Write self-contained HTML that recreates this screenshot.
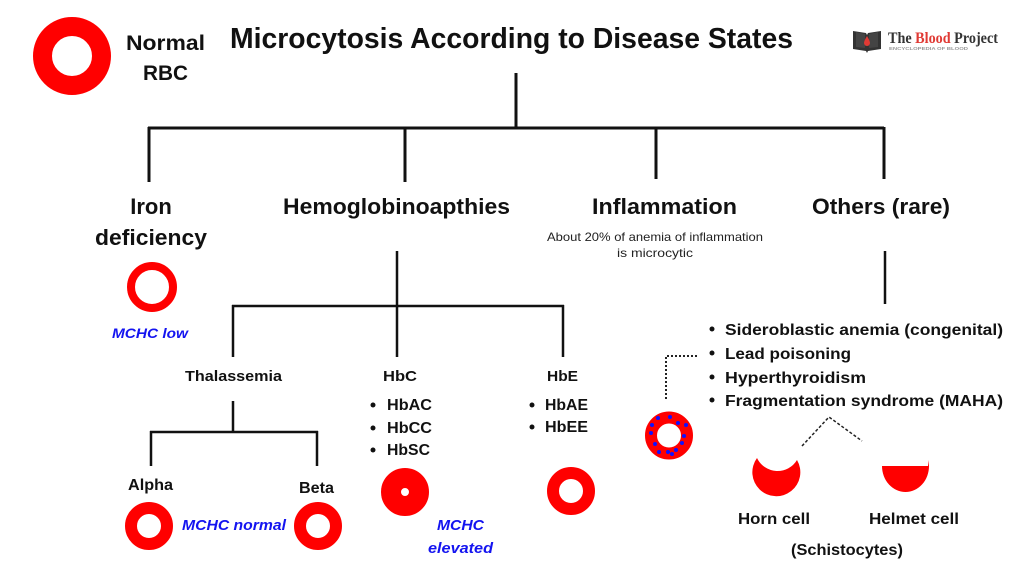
<!DOCTYPE html>
<html>
<head>
<meta charset="utf-8">
<style>
  html,body{margin:0;padding:0;background:#fff;}
  svg{display:block;}
  .b{font-family:"Liberation Sans",sans-serif;font-weight:bold;fill:#111;}
  .r{font-family:"Liberation Sans",sans-serif;}
  .blue{font-family:"Liberation Sans",sans-serif;font-weight:bold;font-style:italic;fill:#1414f0;}
  .serif{font-family:"Liberation Serif",serif;font-weight:bold;}
</style>
</head>
<body>
<svg width="1024" height="576" viewBox="0 0 1024 576" xmlns="http://www.w3.org/2000/svg">
  <rect width="1024" height="576" fill="#fff"/>

  <!-- Normal RBC -->
  <circle cx="72" cy="56" r="29.5" fill="none" stroke="#ff0000" stroke-width="19"/>
  <text class="b" x="126" y="50" font-size="21" textLength="79" lengthAdjust="spacingAndGlyphs">Normal</text>
  <text class="b" x="143" y="80" font-size="21" textLength="45" lengthAdjust="spacingAndGlyphs">RBC</text>

  <!-- Title -->
  <text class="b" x="230" y="48" font-size="29" textLength="563" lengthAdjust="spacingAndGlyphs">Microcytosis According to Disease States</text>

  <!-- Logo -->
  <g>
    <path d="M853 31 L853 49 L866 51 L867 53 L868 51 L881 49 L881 31 L868 33 L867 35 L866 33 Z" fill="#333"/>
    <path d="M856 32 L865 34 L865 48 L856 47 Z" fill="#444"/>
    <path d="M878 32 L869 34 L869 48 L878 47 Z" fill="#444"/>
    <path d="M867 36 Q864 41 864 43 A3 3 0 0 0 870 43 Q870 41 867 36 Z" fill="#e03a34"/>
    <text class="serif" x="888" y="43" font-size="16" textLength="110" lengthAdjust="spacingAndGlyphs"><tspan fill="#333">The </tspan><tspan fill="#e03a34">Blood</tspan><tspan fill="#333"> Project</tspan></text>
    <text class="r" x="889" y="50" font-size="4.5" fill="#999" font-weight="bold" textLength="79" lengthAdjust="spacingAndGlyphs">ENCYCLOPEDIA OF BLOOD</text>
  </g>

  <!-- Main tree -->
  <g stroke="#111" stroke-width="3" fill="none">
    <line x1="516" y1="73" x2="516" y2="128"/>
    <line x1="148" y1="128" x2="884" y2="128"/>
    <line x1="149" y1="127" x2="149" y2="182"/>
    <line x1="405" y1="127" x2="405" y2="182"/>
    <line x1="656" y1="127" x2="656" y2="179"/>
    <line x1="884" y1="127" x2="884" y2="179"/>
  </g>

  <!-- Category headings -->
  <text class="b" x="151" y="214" font-size="22" text-anchor="middle">Iron</text>
  <text class="b" x="95" y="245" font-size="22" textLength="112" lengthAdjust="spacingAndGlyphs">deficiency</text>
  <text class="b" x="283" y="214" font-size="22" textLength="227" lengthAdjust="spacingAndGlyphs">Hemoglobinoapthies</text>
  <text class="b" x="592" y="214" font-size="22" textLength="145" lengthAdjust="spacingAndGlyphs">Inflammation</text>
  <text class="b" x="812" y="214" font-size="22" textLength="138" lengthAdjust="spacingAndGlyphs">Others (rare)</text>

  <text class="r" x="547" y="241" font-size="12" fill="#222" textLength="216" lengthAdjust="spacingAndGlyphs">About 20% of anemia of inflammation</text>
  <text class="r" x="617" y="257" font-size="12" fill="#222" textLength="76" lengthAdjust="spacingAndGlyphs">is microcytic</text>

  <!-- Iron deficiency ring -->
  <circle cx="152" cy="287" r="21" fill="none" stroke="#ff0000" stroke-width="8"/>
  <text class="blue" x="112" y="338" font-size="14" textLength="76" lengthAdjust="spacingAndGlyphs">MCHC low</text>

  <!-- Hemoglobinopathies subtree -->
  <g stroke="#111" stroke-width="2.5" fill="none">
    <line x1="397" y1="251" x2="397" y2="357"/>
    <line x1="232" y1="306" x2="564" y2="306"/>
    <line x1="233" y1="305" x2="233" y2="357"/>
    <line x1="563" y1="305" x2="563" y2="357"/>
    <line x1="233" y1="401" x2="233" y2="432"/>
    <line x1="150" y1="432" x2="318" y2="432"/>
    <line x1="151" y1="431" x2="151" y2="466"/>
    <line x1="317" y1="431" x2="317" y2="466"/>
    <line x1="885" y1="251" x2="885" y2="304"/>
  </g>

  <text class="b" x="185" y="381" font-size="15" textLength="97" lengthAdjust="spacingAndGlyphs">Thalassemia</text>
  <text class="b" x="383" y="381" font-size="15" textLength="34" lengthAdjust="spacingAndGlyphs">HbC</text>
  <text class="b" x="547" y="381" font-size="15" textLength="31" lengthAdjust="spacingAndGlyphs">HbE</text>

  <!-- HbC / HbE bullets -->
  <g fill="#111">
    <circle cx="373" cy="405" r="2.5"/>
    <circle cx="373" cy="428" r="2.5"/>
    <circle cx="373" cy="450" r="2.5"/>
    <circle cx="532" cy="405" r="2.5"/>
    <circle cx="532" cy="427" r="2.5"/>
  </g>
  <text class="b" x="387" y="410" font-size="16" textLength="45" lengthAdjust="spacingAndGlyphs">HbAC</text>
  <text class="b" x="387" y="433" font-size="16" textLength="45" lengthAdjust="spacingAndGlyphs">HbCC</text>
  <text class="b" x="387" y="455" font-size="16" textLength="43" lengthAdjust="spacingAndGlyphs">HbSC</text>
  <text class="b" x="545" y="410" font-size="16" textLength="43" lengthAdjust="spacingAndGlyphs">HbAE</text>
  <text class="b" x="545" y="432" font-size="16" textLength="43" lengthAdjust="spacingAndGlyphs">HbEE</text>

  <!-- Alpha / Beta -->
  <text class="b" x="128" y="490" font-size="16" textLength="45" lengthAdjust="spacingAndGlyphs">Alpha</text>
  <text class="b" x="299" y="493" font-size="16" textLength="35" lengthAdjust="spacingAndGlyphs">Beta</text>
  <circle cx="149" cy="526" r="18" fill="none" stroke="#ff0000" stroke-width="12"/>
  <circle cx="318" cy="526" r="18" fill="none" stroke="#ff0000" stroke-width="12"/>
  <text class="blue" x="182" y="530" font-size="15" textLength="104" lengthAdjust="spacingAndGlyphs">MCHC normal</text>

  <!-- HbC ring (target) -->
  <circle cx="405" cy="492" r="14" fill="none" stroke="#ff0000" stroke-width="20"/>
  <text class="blue" x="437" y="530" font-size="15" textLength="47" lengthAdjust="spacingAndGlyphs">MCHC</text>
  <text class="blue" x="428" y="553" font-size="15" textLength="65" lengthAdjust="spacingAndGlyphs">elevated</text>

  <!-- HbE ring -->
  <circle cx="571" cy="491" r="18" fill="none" stroke="#ff0000" stroke-width="12"/>

  <!-- Others bullets -->
  <g fill="#111">
    <circle cx="712" cy="329" r="2.5"/>
    <circle cx="712" cy="353" r="2.5"/>
    <circle cx="712" cy="377" r="2.5"/>
    <circle cx="712" cy="400" r="2.5"/>
  </g>
  <text class="b" x="725" y="335" font-size="16" textLength="278" lengthAdjust="spacingAndGlyphs">Sideroblastic anemia (congenital)</text>
  <text class="b" x="725" y="359" font-size="16" textLength="126" lengthAdjust="spacingAndGlyphs">Lead poisoning</text>
  <text class="b" x="725" y="383" font-size="16" textLength="141" lengthAdjust="spacingAndGlyphs">Hyperthyroidism</text>
  <text class="b" x="725" y="406" font-size="16" textLength="278" lengthAdjust="spacingAndGlyphs">Fragmentation syndrome (MAHA)</text>

  <!-- dotted connector -->
  <path d="M697 356 L666 356 L666 401" fill="none" stroke="#222" stroke-width="2" stroke-dasharray="2 2"/>

  <!-- basophilic stippled ring -->
  <circle cx="669" cy="435.5" r="18" fill="none" stroke="#ff0000" stroke-width="12"/>
  <g fill="#1010ff">
    <circle cx="658" cy="418" r="2"/>
    <circle cx="670" cy="417" r="2"/>
    <circle cx="678" cy="423" r="2"/>
    <circle cx="686" cy="425" r="2"/>
    <circle cx="652" cy="425" r="2"/>
    <circle cx="651" cy="433" r="2"/>
    <circle cx="684" cy="436" r="2"/>
    <circle cx="682" cy="443" r="2"/>
    <circle cx="655" cy="444" r="2"/>
    <circle cx="659" cy="452" r="2"/>
    <circle cx="668" cy="452" r="2"/>
    <circle cx="672" cy="454" r="2"/>
    <circle cx="676" cy="450" r="2"/>
  </g>

  <!-- dashed lines to schistocytes -->
  <path d="M802 446 L829 417 L862 441" fill="none" stroke="#222" stroke-width="1.5" stroke-dasharray="3 2"/>

  <!-- Horn cell -->
  <path d="M757 458 A24 24 0 1 0 797 460 A22.7 22.7 0 0 1 757 458 Z" fill="#ff0000"/>
  <!-- Helmet cell -->
  <path d="M882 466 L928 466 L929 460 L929 466 A23.5 26 0 0 1 882 466 Z" fill="#ff0000"/>

  <text class="b" x="738" y="524" font-size="16" textLength="72" lengthAdjust="spacingAndGlyphs">Horn cell</text>
  <text class="b" x="869" y="524" font-size="16" textLength="90" lengthAdjust="spacingAndGlyphs">Helmet cell</text>
  <text class="b" x="791" y="555" font-size="16" textLength="112" lengthAdjust="spacingAndGlyphs">(Schistocytes)</text>
</svg>
</body>
</html>
